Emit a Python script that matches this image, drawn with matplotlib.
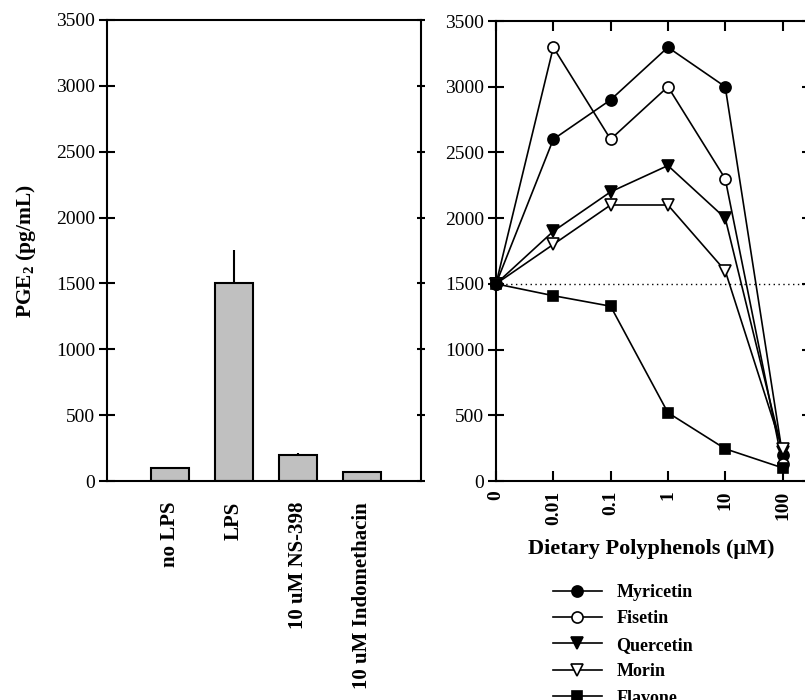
import numpy as np
import matplotlib
matplotlib.use("Agg")
import matplotlib.pyplot as plt

plt.rcParams["font.family"] = ["Liberation Serif", "DejaVu Serif"]
plt.rcParams["mathtext.fontset"] = "custom"
plt.rcParams["mathtext.rm"] = "Liberation Serif:bold"
plt.rcParams["mathtext.bf"] = "Liberation Serif:bold"

# controls
treatments = ["no LPS", "LPS", "10 uM NS-398", "10 uM Indomethacin"]
pge2 = [100, 1500, 200, 65]
pge2_err = [10, 250, 15, 10]

# dose response
doses = ["0", "0.01", "0.1", "1", "10", "100"]
myricetin = [1500, 2600, 2900, 3300, 3000, 200]
fisetin = [1500, 3300, 2600, 3000, 2300, 130]
quercetin = [1500, 1900, 2200, 2400, 2000, 220]
morin = [1500, 1800, 2100, 2100, 1600, 240]
flavone = [1500, 1410, 1330, 520, 245, 100]
lps_level = 1500

fig = plt.figure(figsize=(8.05, 7), dpi=100)
W, H = 805, 700
ax1 = fig.add_axes([107 / W, 1 - 481 / H, (421 - 107) / W, (481 - 20) / H])
ax2 = fig.add_axes([496 / W, 1 - 481 / H, (806 - 496) / W, (481 - 21) / H])

lw = 1.5
for ax in (ax1, ax2):
    for s in ax.spines.values():
        s.set_linewidth(lw)
    ax.set_ylim(0, 3500)
    ax.set_yticks(np.arange(0, 3501, 500))
    ax.tick_params(axis="y", which="both", direction="inout", length=11,
                   width=lw, labelsize=14, right=True, pad=3)

# bar panel
xb = np.arange(len(treatments))
ax1.bar(xb, pge2, width=0.6, color="#c0c0c0", edgecolor="black", linewidth=lw, zorder=2)
ax1.errorbar(xb, pge2, yerr=[np.zeros(len(pge2)), pge2_err], fmt="none",
             ecolor="black", elinewidth=lw, capsize=0, zorder=1)
ax1.set_xlim(-0.98, 3.92)
ax1.set_xticks(xb)
ax1.set_xticklabels(treatments, rotation=90, fontsize=15, fontweight="bold")
ax1.tick_params(axis="x", length=0, pad=15)
ax1.set_ylabel(r"$\mathbf{PGE_2}$ (pg/mL)", fontsize=15.5, fontweight="bold", labelpad=13)
for t in ax1.yaxis.get_ticklines()[1::2]:
    t.set_markersize(6)

# dose response panel
xd = np.arange(len(doses))
ax2.axhline(lps_level, color="black", linestyle=(0, (1, 2.5)), linewidth=1)
style = dict(color="black", linewidth=1.2, markeredgecolor="black",
             markeredgewidth=1.2, clip_on=False, zorder=3)
ax2.plot(xd, myricetin, marker="o", markersize=8, markerfacecolor="black", label="Myricetin", **style)
ax2.plot(xd, fisetin, marker="o", markersize=8, markerfacecolor="white", label="Fisetin", **style)
ax2.plot(xd, quercetin, marker="v", markersize=8, markerfacecolor="black", label="Quercetin", **style)
ax2.plot(xd, morin, marker="v", markersize=8, markerfacecolor="white", label="Morin", **style)
ax2.plot(xd, flavone, marker="s", markersize=7, markerfacecolor="black", label="Flavone", **style)
ax2.set_xlim(0, 5.41)
ax2.set_xticks(xd)
ax2.set_xticklabels(doses, rotation=90, fontsize=14, fontweight="bold")
ax2.tick_params(axis="x", which="both", direction="in", length=7, width=lw,
                top=True, pad=7)
ax2.set_xlabel("Dietary Polyphenols (\u03bcM)", fontsize=16, fontweight="bold", labelpad=10)
for t in ax2.yaxis.get_ticklines()[1::2]:
    t.set_markersize(6)

fig.legend(loc="upper left", bbox_to_anchor=(553 / W, 1 - 584 / H),
           frameon=False, prop={"weight": "bold", "size": 13},
           handlelength=2.7, handletextpad=0.8, labelspacing=0.52,
           borderpad=0, borderaxespad=0)

fig.savefig("out.png", dpi=100)
